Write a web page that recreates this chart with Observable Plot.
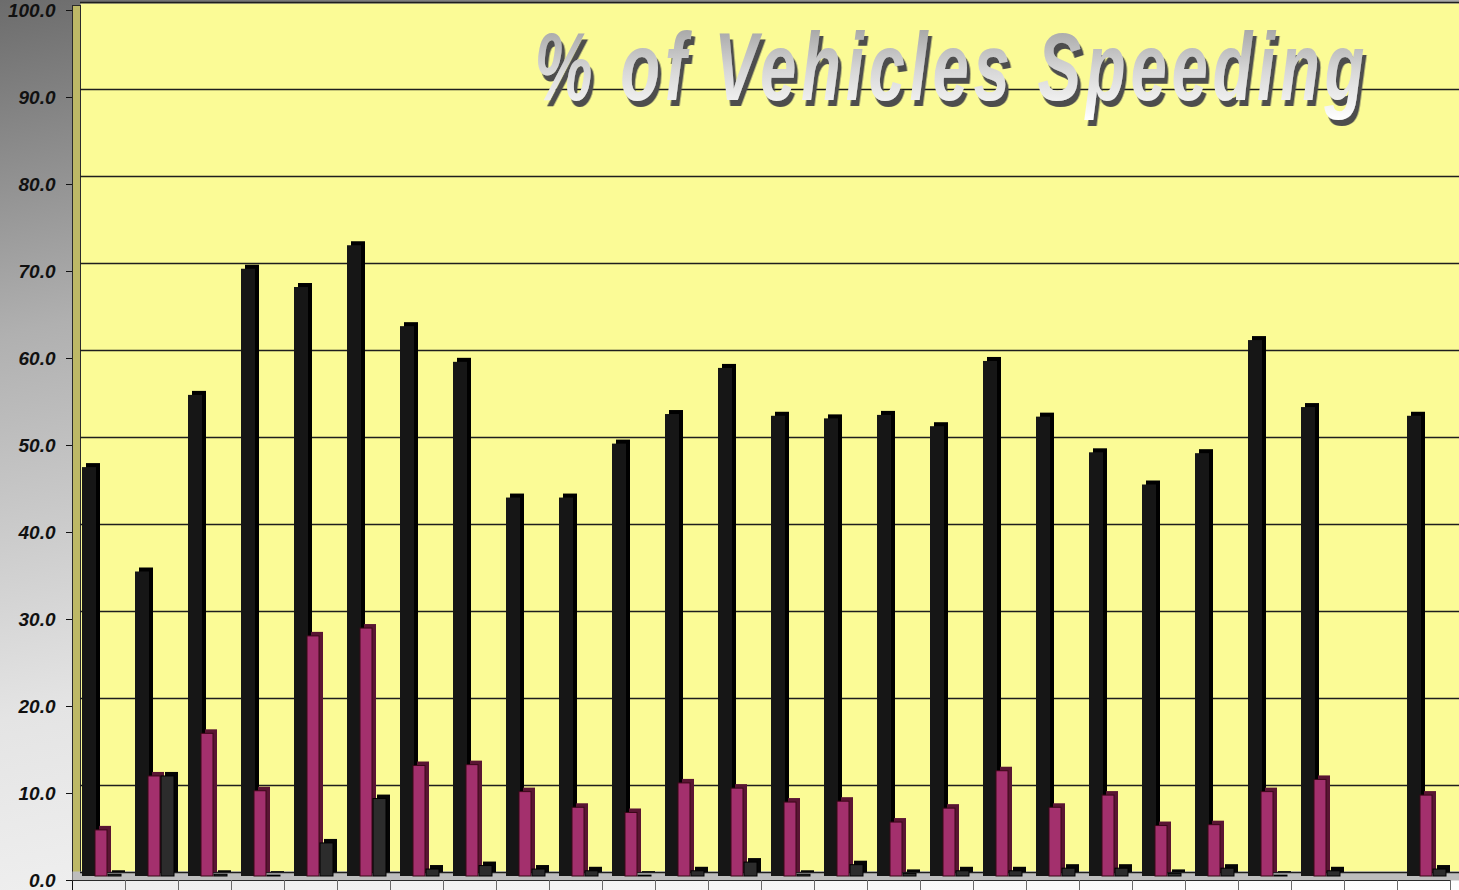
<!DOCTYPE html>
<html><head><meta charset="utf-8">
<script src="https://cdn.jsdelivr.net/npm/d3@7"></script>
<script src="https://cdn.jsdelivr.net/npm/@observablehq/plot@0.6"></script>
<style>
html,body{margin:0;padding:0;overflow:hidden;}
body{width:1459px;height:890px;background:linear-gradient(168deg,#6c6c6c 0%,#b0b0b0 28%,#e4e4e4 60%,#ffffff 100%);}
#chart svg{display:block;background:transparent;}
</style>
</head><body><div id="chart"></div>
<script>
const slots = ["1","2","3","4","5","6","7","8","9","10","11","12","13","14","15","16","17","18","19","20","21","22","23","24","25","26"];
const seriesA = [47.0,35.0,55.3,69.8,67.7,72.5,63.2,59.1,43.5,43.5,49.7,53.1,58.4,52.9,52.6,53.0,51.7,59.2,52.8,48.7,45.0,48.6,61.6,53.9,null,52.9];
const seriesB = [5.3,11.5,16.4,9.8,27.6,28.5,12.7,12.8,9.7,7.9,7.3,10.7,10.1,8.5,8.6,6.2,7.8,12.1,7.9,9.3,5.8,5.9,9.7,11.1,null,9.3];
const seriesC = [0.2,11.5,0.2,0.1,3.8,8.9,0.8,1.2,0.8,0.6,0.1,0.6,1.6,0.2,1.3,0.3,0.6,0.6,0.9,0.9,0.3,0.9,0.1,0.6,null,0.8];
const yTicks = [0,10,20,30,40,50,60,70,80,90,100];
const title = "% of Vehicles Speeding";

const rows = slots.map((s, i) => ({slot: s, a: seriesA[i], b: seriesB[i], c: seriesC[i]}));

function bar3d(key, front, side, insetLeft, insetRight, stroke) {
  return [
    Plot.barY(rows, {x: "slot", y: key, fill: side, insetLeft, insetRight, dx: 4, dy: -8}),
    Plot.barY(rows, {x: "slot", y: key, fill: front, stroke: stroke, strokeWidth: 1, insetLeft, insetRight, dy: -4})
  ];
}

const svg = Plot.plot({
  width: 1459,
  height: 890,
  marginLeft: 72,
  marginRight: 9,
  marginTop: 10,
  marginBottom: 0,
  style: {font: "italic bold 19px 'Liberation Sans', Arial, sans-serif", color: "#111", background: "transparent"},
  x: {type: "band", domain: slots, padding: 0, axis: null},
  y: {domain: [0, 100], insetBottom: 10, ticks: yTicks, tickFormat: d3.format(".1f"), tickSize: 6, tickPadding: 11, line: true, label: null},
  marks: [
    Plot.frame({fill: "#fbfb96", stroke: "none", insetLeft: 8, insetTop: -7, insetRight: -9, insetBottom: 19}),
    Plot.frame({fill: "#bdb866", stroke: "#2a2a2a", strokeWidth: 1, insetRight: 1370, insetTop: -5, insetBottom: 10}),
    Plot.frame({fill: "#bdbdbd", stroke: "none", insetTop: 861, insetBottom: 10, insetRight: -9}),
    Plot.ruleY(yTicks, {y: d => d, dy: -8, insetLeft: 8, insetRight: -9, stroke: "#1e1e1e", strokeWidth: 1.4}),
    Plot.text([title], {text: d => d, frameAnchor: "top-left", dx: 462, dy: 21, lineAnchor: "top", textAnchor: "start",
      fontSize: 96, fontWeight: "bold", fontStyle: "italic", fontFamily: "Liberation Sans, Arial, sans-serif",
      fill: "url(#titleGrad)"}),
    ...bar3d("a", "#161616", "#000000", 10, 29, "none"),
    ...bar3d("b", "#a3306d", "#5a1533", 23, 18, "#3a0818"),
    ...bar3d("c", "#2c2c2c", "#050505", 36, 4, "#000"),
    Plot.ruleY([0], {stroke: "#2a2a2a", strokeWidth: 1.2}),
    Plot.ruleX(slots, {x: d => d, dx: 26.5, insetTop: 870, stroke: "#6a6a6a", strokeWidth: 1})
  ]
});

const root = d3.select(svg);
const defs = root.insert("defs", ":first-child");
const grad = defs.append("linearGradient")
  .attr("id", "titleGrad").attr("x1", 0).attr("y1", 0).attr("x2", 0).attr("y2", 1);
grad.append("stop").attr("offset", "0%").attr("stop-color", "#969696");
grad.append("stop").attr("offset", "55%").attr("stop-color", "#d8d8d8");
grad.append("stop").attr("offset", "100%").attr("stop-color", "#ffffff");
defs.append("filter").attr("id", "titleShadow").attr("x", "-5%").attr("y", "-10%").attr("width", "115%").attr("height", "130%")
  .append("feDropShadow").attr("dx", 5).attr("dy", 6).attr("stdDeviation", 0.4)
  .attr("flood-color", "#4e4e4e").attr("flood-opacity", 1);

// condensed glyphs with open letter spacing, as in the reference title
const sx = 0.68;
root.selectAll("text").filter(function() { return this.textContent === title; })
  .each(function() {
    const x0 = +(this.getAttribute("x") || 0);
    const t = this.getAttribute("transform") || "";
    this.setAttribute("transform", `${t} translate(${x0},0) scale(${sx},1) translate(${-x0},0)`);
    this.setAttribute("textLength", 830 / sx);
    this.setAttribute("lengthAdjust", "spacing");
    this.setAttribute("filter", "url(#titleShadow)");
  });

document.getElementById("chart").appendChild(svg);
</script>
</body></html>
